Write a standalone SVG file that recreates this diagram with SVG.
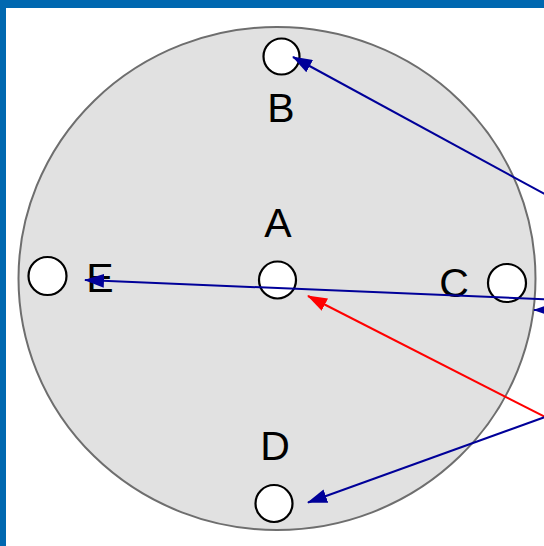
<svg xmlns="http://www.w3.org/2000/svg" width="544" height="546" viewBox="0 0 544 546">
<defs>
<style>
.lbl{font-family:"Liberation Sans",Arial,sans-serif;font-size:41px;fill:#000;text-anchor:middle}
.node{fill:#fff;stroke:#000;stroke-width:2.2}
.blue{stroke:#000099;stroke-width:2;fill:none}
.red{stroke:#ff0000;stroke-width:2;fill:none}
</style>
<marker id="ab" viewBox="0 0 20 14" refX="19" refY="7" markerWidth="10" markerHeight="7" markerUnits="strokeWidth" orient="auto">
<path d="M0,0 L20,7 L0,14 Z" fill="#000099"/>
</marker>
<marker id="ar" viewBox="0 0 20 14" refX="19" refY="7" markerWidth="10" markerHeight="7" markerUnits="strokeWidth" orient="auto">
<path d="M0,0 L20,7 L0,14 Z" fill="#ff0000"/>
</marker>
</defs>
<rect width="544" height="546" fill="#ffffff"/>
<rect x="0" y="0" width="544" height="8" fill="#0068b0"/>
<rect x="0" y="0" width="6" height="546" fill="#0068b0"/>
<ellipse id="disc" cx="277" cy="278.5" rx="258.5" ry="251.5" fill="#e1e1e1" stroke="#6e6e6e" stroke-width="2"/>
<g id="nodeB"><circle class="node" cx="281.5" cy="56.5" r="18"/><text class="lbl" x="281" y="122">B</text></g>
<g id="nodeA"><circle class="node" cx="277.5" cy="280" r="18.5"/><text class="lbl" x="278" y="236.5">A</text></g>
<g id="nodeE"><circle class="node" cx="47.5" cy="276" r="19"/><text class="lbl" x="100" y="292">E</text></g>
<g id="nodeC"><circle class="node" cx="507" cy="283" r="19"/><text class="lbl" x="454" y="297">C</text></g>
<g id="nodeD"><circle class="node" cx="274" cy="503.5" r="18.5"/><text class="lbl" x="275" y="460">D</text></g>
<g id="connectors">
<line class="blue" x1="550" y1="197" x2="293" y2="57" marker-end="url(#ab)"/>
<line class="blue" x1="550" y1="299.5" x2="85" y2="280" marker-end="url(#ab)"/>
<line class="blue" x1="556" y1="310" x2="534" y2="310" marker-end="url(#ab)"/>
<line class="red" x1="545" y1="417" x2="308" y2="296" marker-end="url(#ar)"/>
<line class="blue" x1="545" y1="417" x2="308" y2="502.5" marker-end="url(#ab)"/>
</g>
</svg>
